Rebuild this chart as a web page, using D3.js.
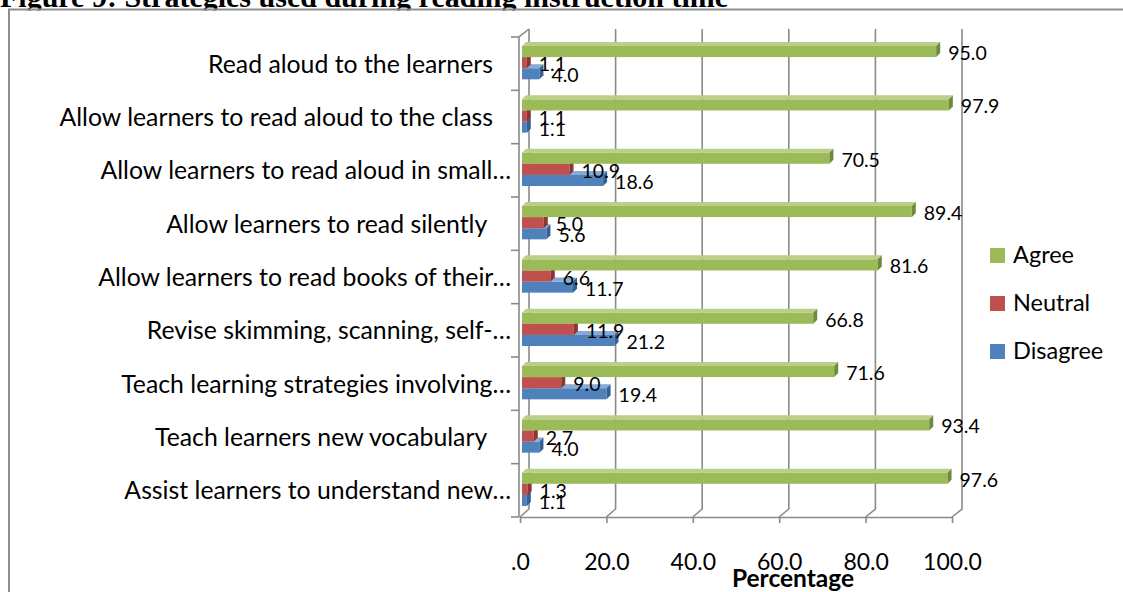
<!DOCTYPE html>
<html>
<head>
<meta charset="utf-8">
<script src="https://cdn.jsdelivr.net/npm/d3@7"></script>
<style>
  body { margin: 0; background: #fff; }
  svg { display: block; }
  text { font-family: Lato, "Open Sans", sans-serif; fill: #000; }
</style>
</head>
<body>
<svg width="1123" height="592"></svg>
<script>
const categories = [
    "Read aloud to the learners",
    "Allow learners to read aloud to the class",
    "Allow learners to read aloud in small…",
    "Allow learners to read silently ",
    "Allow learners to read books of their…",
    "Revise skimming, scanning, self-…",
    "Teach learning strategies involving…",
    "Teach learners new vocabulary ",
    "Assist learners to understand new…"
];
const agree = [95.0, 97.9, 70.5, 89.4, 81.6, 66.8, 71.6, 93.4, 97.6];
const neutral = [1.1, 1.1, 10.9, 5.0, 6.6, 11.9, 9.0, 2.7, 1.3];
const disagree = [4.0, 1.1, 18.6, 5.6, 11.7, 21.2, 19.4, 4.0, 1.1];
const seriesNames = ["Agree", "Neutral", "Disagree"];
const xTicks = [0, 20, 40, 60, 80, 100];

const colors = {
    Agree: { front: "#9bbb59", top: "#b9d088", side: "#6f8a3a" },
    Neutral: { front: "#c0504d", top: "#d6837f", side: "#8e3431" },
    Disagree: { front: "#4f81bd", top: "#86a9d6", side: "#355f91" }
};

const svg = d3.select("svg");

// frame and clipped title
svg.append("text")
    .attr("x", 0).attr("y", 7)
    .style("font-family", "'Liberation Serif', serif")
    .style("font-weight", "bold")
    .style("font-size", "30px")
    .text("Figure 9: Strategies used during reading instruction time");

svg.append("rect")
    .attr("x", 10).attr("y", 10.5).attr("width", 1113).attr("height", 582)
    .attr("fill", "#fff");

svg.append("path")
    .attr("d", "M9,592 V9.5 H1123")
    .attr("fill", "none")
    .attr("stroke", "#8e8e8e")
    .attr("stroke-width", 2);

// scales
const xFront = d3.scaleLinear().domain([0, 100]).range([520, 952]);
const xBack = d3.scaleLinear().domain([0, 100]).range([529, 962]);
const xBar = d3.scaleLinear().domain([0, 100]).range([522, 958]);
const y = d3.scaleBand().domain(categories).range([37, 517]).paddingInner(0.375).paddingOuter(0.1875);
const ySeries = d3.scaleBand().domain(seriesNames).range([0, y.bandwidth()]);
const floorY = 517, depthX = 9, depthY = 8;
const barDepth = 4;

// back wall gridlines
svg.append("g").selectAll("path")
    .data(xTicks)
    .enter().append("path")
    .attr("d", d => `M${xBack(d)},${y.range()[0] - depthY} V${floorY - depthY} L${xFront(d)},${floorY}`)
    .attr("fill", "none")
    .attr("stroke", "#8a8a8a")
    .attr("stroke-width", 1.6);

// category axis
const step = y.step();
svg.append("path")
    .attr("d", `M${xFront(0) - 1},${floorY} V${y.range()[0]} L${xBack(0)},${y.range()[0] - depthY}`)
    .attr("fill", "none")
    .attr("stroke", "#8a8a8a")
    .attr("stroke-width", 1.6);

svg.append("g").selectAll("line")
    .data(d3.range(categories.length + 1))
    .enter().append("line")
    .attr("x1", xFront(0) - 9).attr("x2", xFront(0) - 1)
    .attr("y1", i => y.range()[0] + i * step)
    .attr("y2", i => y.range()[0] + i * step)
    .attr("stroke", "#8a8a8a")
    .attr("stroke-width", 1.6);

svg.append("g").selectAll("text")
    .data(categories)
    .enter().append("text")
    .attr("x", d => d.endsWith("…") ? 511 : 493)
    .attr("y", d => y(d) + y.bandwidth() / 2 - 1 + 10)
    .attr("text-anchor", "end")
    .style("white-space", "pre")
    .style("font-size", "24.8px")
    .text(d => d);

// value axis
const xAxis = svg.append("g")
    .attr("transform", `translate(0,${floorY})`)
    .call(d3.axisBottom(xFront)
        .tickValues(xTicks)
        .tickSize(6)
        .tickSizeOuter(0)
        .tickPadding(31)
        .tickFormat(d => d === 0 ? ".0" : d.toFixed(1)));
xAxis.selectAll("path, line").attr("stroke", "#8a8a8a").attr("stroke-width", 1.6);
xAxis.selectAll("text")
    .style("font-family", "Lato, sans-serif")
    .style("font-size", "23px")
    .attr("fill", "#000");

svg.append("text")
    .attr("x", 793).attr("y", 587)
    .attr("text-anchor", "middle")
    .style("font-weight", "bold")
    .style("font-size", "24.5px")
    .text("Percentage");

// bars, drawn bottom series first so upper bars cover top faces
const seriesData = { Agree: agree, Neutral: neutral, Disagree: disagree };
const bars = [];
categories.forEach((c, i) => {
    seriesNames.slice().reverse().forEach(s => {
        bars.push({ cat: c, series: s, value: seriesData[s][i] });
    });
});

const barG = svg.append("g");
bars.forEach(b => {
    const x0 = xBar(0), x1 = xBar(b.value);
    const top = y(b.cat) + ySeries(b.series) - 1;
    const h = ySeries.bandwidth();
    const col = colors[b.series];
    barG.append("rect")
        .attr("x", x0).attr("y", top)
        .attr("width", x1 - x0).attr("height", h)
        .attr("fill", col.front);
    barG.append("path")
        .attr("d", `M${x0},${top} L${x1},${top} L${x1 + barDepth},${top - barDepth} L${x0 + barDepth},${top - barDepth}Z`)
        .attr("fill", col.top);
    barG.append("path")
        .attr("d", `M${x1},${top} L${x1 + barDepth},${top - barDepth} L${x1 + barDepth},${top + h - barDepth} L${x1},${top + h}Z`)
        .attr("fill", col.side);
});

// data labels
svg.append("g").selectAll("text")
    .data(bars)
    .enter().append("text")
    .attr("x", d => xBar(d.value) + 12)
    .attr("y", d => y(d.cat) + ySeries(d.series) - 1 + ySeries.bandwidth() + 3)
    .style("font-size", "19.5px")
    .text(d => d.value.toFixed(1));

// legend
const legend = svg.append("g").selectAll("g")
    .data(seriesNames)
    .enter().append("g")
    .attr("transform", (d, i) => `translate(990,${248 + i * 48})`);
legend.append("rect")
    .attr("width", 15).attr("height", 15)
    .attr("fill", d => colors[d].front);
legend.append("text")
    .attr("x", 23).attr("y", 15)
    .style("font-size", "23.5px")
    .text(d => d);
</script>
</body>
</html>
